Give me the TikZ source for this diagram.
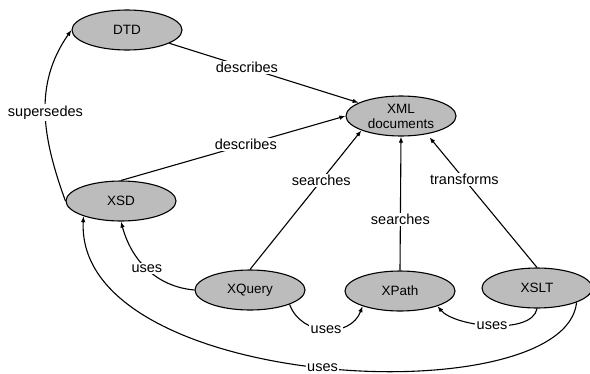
\documentclass[tikz,border=0pt]{standalone}
\usepackage{fontspec}
\setmainfont{Liberation Sans}
\usetikzlibrary{shapes.geometric,arrows.meta}
\definecolor{conceptgray}{RGB}{188,188,188}
\begin{document}
\begin{tikzpicture}[x=1pt,y=-1pt,
  concept/.style={ellipse, draw=black, line width=1.1pt, fill=conceptgray,
    minimum width=110pt, minimum height=40pt, inner sep=0pt, align=center,
    font=\fontsize{13.5}{15}\selectfont},
  rel/.style={draw=black, line width=1.1pt, -{Latex[length=6pt,width=4.5pt]}},
  lab/.style={fill=white, inner sep=1.5pt, font=\fontsize{14.5}{16}\selectfont}
]
\useasboundingbox (0,0) rectangle (590,373);

% concepts
\node[concept] (dtd)    at (127,30)  {DTD};
\node[concept] (xml)    at (401,116) {XML\\documents};
\node[concept] (xsd)    at (121,201) {XSD};
\node[concept] (xquery) at (250,290) {XQuery};
\node[concept] (xpath)  at (400,291) {XPath};
\node[concept] (xslt)   at (537,288) {XSLT};

% relations to XML documents
\draw[rel] (dtd) -- node[lab, pos=0.41] {describes} (xml);
\draw[rel] (xsd.north) -- node[lab, pos=0.556] {describes} (xml.west);
\draw[rel] (xquery.north) -- node[lab, pos=0.64] {searches} (xml.200);
\draw[rel] (xpath.north) -- node[lab, pos=0.38] {searches} (xml.south);
\draw[rel, shorten >=4pt] (xslt.north) -- node[lab, pos=0.66] {transforms} (xml.-35);

% schema relation
\draw[rel] (xsd.west) to[out=110, in=235] node[lab] {supersedes} (dtd.west);

% uses relations
\draw[rel] (xquery.west) to[out=175, in=-75] node[lab] {uses} (xsd.south);
\draw[rel] (xquery.-20) to[out=-70, in=-110, looseness=1.2] node[lab] {uses} (xpath.-158);
\draw[rel] (xslt.south) to[out=-100, in=-50, looseness=0.7] node[lab] {uses} (xpath.-22);
\draw[rel] (xslt.-20) .. controls (565,415) and (75,392) .. (xsd.-158)
  node[lab, pos=0.5] {uses};
\end{tikzpicture}
\end{document}
